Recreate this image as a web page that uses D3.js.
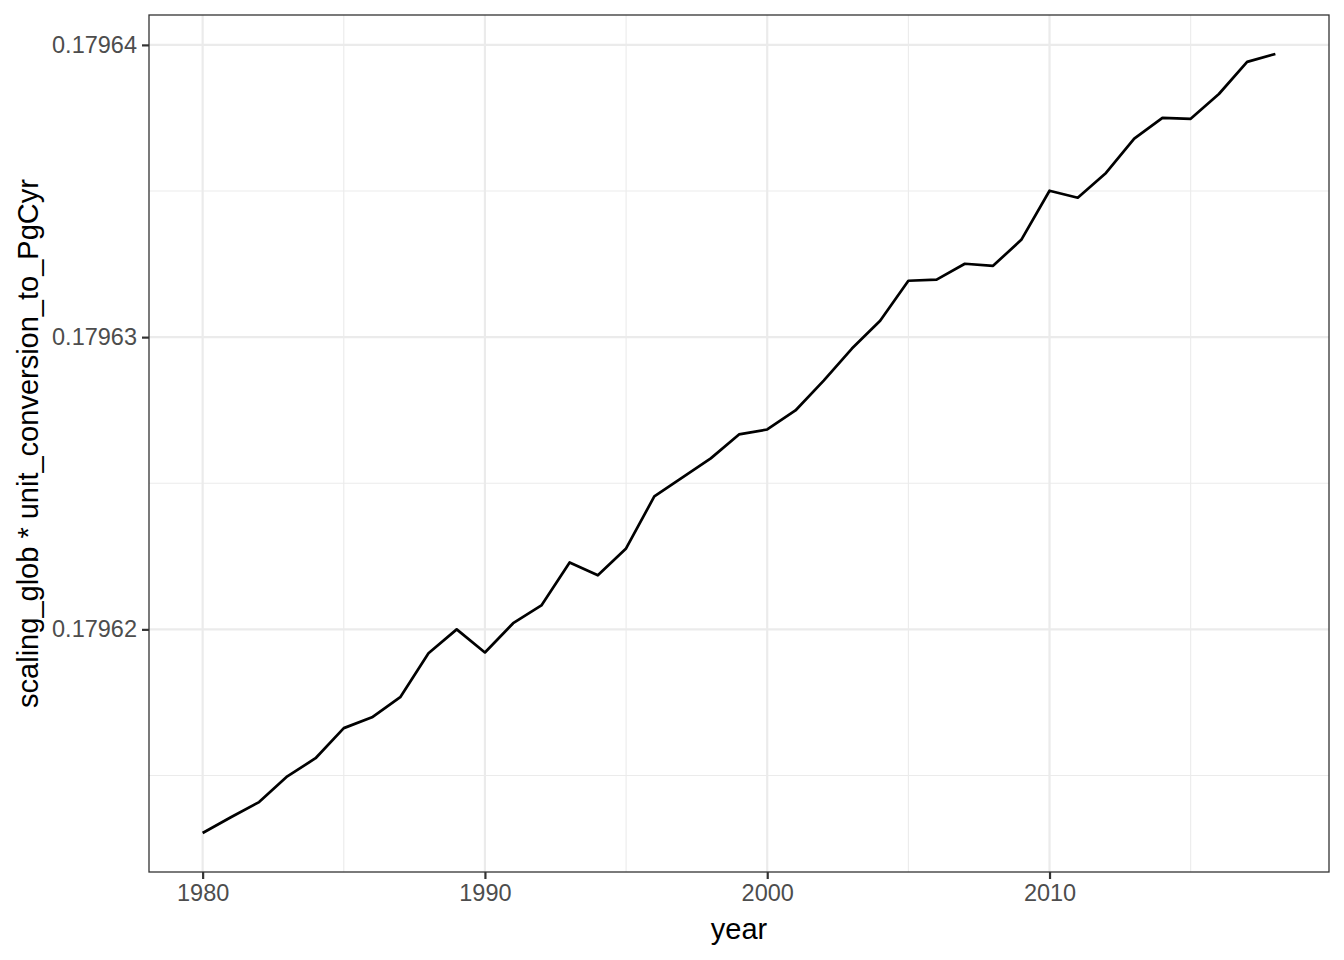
<!DOCTYPE html>
<html>
<head>
<meta charset="utf-8">
<script src="https://cdn.jsdelivr.net/npm/d3@7"></script>
<style>
  body { margin: 0; background: #fff; }
  svg text { font-family: "Liberation Sans", Arial, sans-serif; }
</style>
</head>
<body>
<div id="chart"></div>
<script>
// values
var years = d3.range(1980, 2019);
var values = [
    0.17961303, 0.17961357, 0.17961409, 0.17961497, 0.17961559,
    0.17961662, 0.17961699, 0.17961768, 0.17961918, 0.17962000,
    0.17961921, 0.17962021, 0.17962082, 0.17962229, 0.17962185,
    0.17962277, 0.17962455, 0.17962520, 0.17962585, 0.17962667,
    0.17962684, 0.17962749, 0.17962851, 0.17962961, 0.17963056,
    0.17963193, 0.17963197, 0.17963251, 0.17963244, 0.17963333,
    0.17963501, 0.17963477, 0.17963562, 0.17963679, 0.17963750,
    0.17963747, 0.17963832, 0.17963942, 0.17963969
];
var xTicks = [1980, 1990, 2000, 2010];
var xMinor = [1985, 1995, 2005, 2015];
var yTicks = [0.17962, 0.17963, 0.17964];
var yMinor = [0.179615, 0.179625, 0.179635];

var W = 1344, H = 960;
var margin = { top: 15, right: 15, bottom: 88, left: 149 };
var width = W - margin.left - margin.right;
var height = H - margin.top - margin.bottom;

var svg = d3.select("#chart")
    .append("svg")
        .attr("width", W)
        .attr("height", H)
    .append("g")
        .attr("transform", "translate(" + margin.left + "," + margin.top + ")");

var dataset = years.map(function (y, i) { return { x: y, y: values[i] }; });

// ggplot-like 5% expansion
var xExt = d3.extent(years), yExt = d3.extent(values);
var xPad = (xExt[1] - xExt[0]) * 0.05, yPad = (yExt[1] - yExt[0]) * 0.05;

var xScale = d3.scaleLinear()
    .domain([xExt[0] - xPad, xExt[1] + xPad])
    .range([0, width]);
var yScale = d3.scaleLinear()
    .domain([yExt[0] - yPad, yExt[1] + yPad])
    .range([height, 0]);

// grid
svg.append("g").selectAll("line.vmin")
    .data(xMinor).enter().append("line")
        .attr("x1", d => xScale(d)).attr("x2", d => xScale(d))
        .attr("y1", 0).attr("y2", height)
        .attr("stroke", "#ebebeb").attr("stroke-width", 1.1);
svg.append("g").selectAll("line.hmin")
    .data(yMinor).enter().append("line")
        .attr("y1", d => yScale(d)).attr("y2", d => yScale(d))
        .attr("x1", 0).attr("x2", width)
        .attr("stroke", "#ebebeb").attr("stroke-width", 1.1);
svg.append("g").selectAll("line.vmaj")
    .data(xTicks).enter().append("line")
        .attr("x1", d => xScale(d)).attr("x2", d => xScale(d))
        .attr("y1", 0).attr("y2", height)
        .attr("stroke", "#ebebeb").attr("stroke-width", 2.2);
svg.append("g").selectAll("line.hmaj")
    .data(yTicks).enter().append("line")
        .attr("y1", d => yScale(d)).attr("y2", d => yScale(d))
        .attr("x1", 0).attr("x2", width)
        .attr("stroke", "#ebebeb").attr("stroke-width", 2.2);

// line
var line = d3.line()
    .x(d => xScale(d.x))
    .y(d => yScale(d.y));

svg.append("path")
    .datum(dataset)
    .attr("d", line)
    .attr("fill", "none")
    .attr("stroke", "black")
    .attr("stroke-width", 2.7)
    .attr("stroke-linejoin", "round");

// panel border
svg.append("rect")
    .attr("width", width).attr("height", height)
    .attr("fill", "none")
    .attr("stroke", "#333333")
    .attr("stroke-width", 1.3);

// axes
var xAxis = svg.append("g")
    .attr("transform", "translate(0," + height + ")")
    .call(d3.axisBottom(xScale).tickValues(xTicks).tickFormat(d3.format("d"))
        .tickSizeInner(7).tickSizeOuter(0).tickPadding(5));
var yAxis = svg.append("g")
    .call(d3.axisLeft(yScale).tickValues(yTicks).tickFormat(d3.format(".5f"))
        .tickSizeInner(7).tickSizeOuter(0).tickPadding(5));

[xAxis, yAxis].forEach(function (a) {
    a.select(".domain").remove();
    a.selectAll(".tick line").attr("stroke", "#333333").attr("stroke-width", 2.2);
    a.selectAll(".tick text")
        .attr("fill", "#4d4d4d")
        .style("font-size", "23.5px")
        .style("font-family", "'Liberation Sans', Arial, sans-serif");
});

// axis labels
svg.append("text")
    .attr("x", width / 2)
    .attr("y", height + 67)
    .style("text-anchor", "middle")
    .style("font-size", "29px")
    .text("year");

svg.append("text")
    .attr("transform", "rotate(-90)")
    .attr("x", -height / 2)
    .attr("y", -111)
    .style("text-anchor", "middle")
    .style("font-size", "29px")
    .text("scaling_glob * unit_conversion_to_PgCyr");
</script>
</body>
</html>
